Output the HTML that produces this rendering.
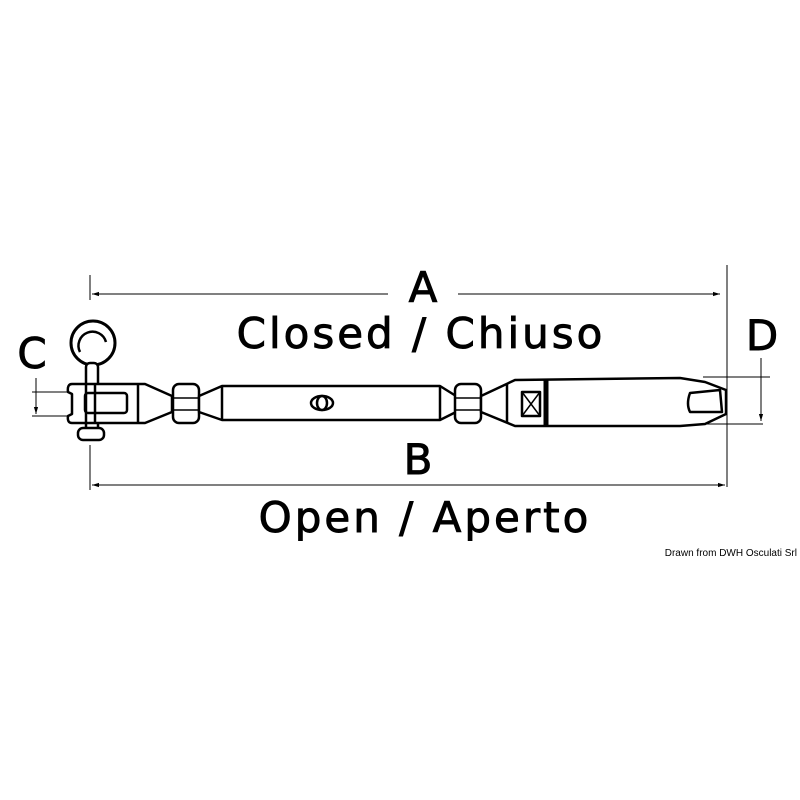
<!DOCTYPE html>
<html><head><style>html,body{margin:0;padding:0;background:#fff}svg{display:block}</style></head>
<body>
<svg width="800" height="800" viewBox="0 0 800 800" xmlns="http://www.w3.org/2000/svg">
<defs>
<marker id="ar" viewBox="0 0 10 10" refX="10" refY="5" markerWidth="7" markerHeight="7" orient="auto-start-reverse"><path d="M0,2 L10,5 L0,8 z" fill="#000"/></marker>
</defs>
<g stroke="#000" fill="none" stroke-width="1">
<line x1="90" y1="275" x2="90" y2="300"/>
<line x1="90" y1="445" x2="90" y2="490"/>
<line x1="727" y1="265" x2="727" y2="487"/>
<line x1="92" y1="294" x2="388" y2="294" marker-start="url(#ar)"/>
<line x1="458" y1="294" x2="720" y2="294" marker-end="url(#ar)"/>
<line x1="92" y1="485" x2="725" y2="485" marker-start="url(#ar)" marker-end="url(#ar)"/>
<line x1="32" y1="392" x2="68" y2="392"/>
<line x1="32" y1="416" x2="68" y2="416"/>
<line x1="36" y1="378" x2="36" y2="414" marker-end="url(#ar)"/>
<line x1="703" y1="377" x2="770" y2="377"/>
<line x1="700" y1="424" x2="763" y2="424"/>
<line x1="761" y1="358" x2="761" y2="421" marker-end="url(#ar)"/>
</g>
<g stroke="#000" fill="#fff" stroke-width="2.5" stroke-linejoin="round">
<circle cx="93" cy="343" r="22" stroke-width="3"/>
<path d="M80,352 A14,14 0 1 1 106,342" fill="none" stroke-width="2.5"/>
<rect x="86" y="363" width="12" height="72" rx="4"/>
<rect x="78" y="428" width="26" height="12" rx="5"/>
<path d="M72,384 L145,384 L172,396 L172,412 L145,423 L72,423 Q67,423 68,416 L72,414 L72,394 L68,392 Q67,384 72,384 Z"/>
<rect x="85" y="393" width="42" height="20" rx="3"/>
<line x1="95" y1="384" x2="95" y2="423"/>
<line x1="86" y1="384" x2="86" y2="423"/>
<line x1="138" y1="384" x2="138" y2="423"/>
<rect x="173" y="384" width="26" height="39" rx="6"/>
<line x1="173" y1="398" x2="199" y2="398" stroke-width="1.5"/>
<line x1="173" y1="410" x2="199" y2="410" stroke-width="1.5"/>
<path d="M199,396 L222,386 L440,386 L456,396 L456,412 L440,420 L222,420 L199,412 Z"/>
<line x1="222" y1="386" x2="222" y2="420"/>
<line x1="440" y1="386" x2="440" y2="420"/>
<ellipse cx="322" cy="403" rx="11" ry="7"/>
<ellipse cx="322" cy="403" rx="5" ry="7"/>
<rect x="455" y="384" width="26" height="39" rx="6"/>
<line x1="455" y1="398" x2="481" y2="398" stroke-width="1.5"/>
<line x1="455" y1="410" x2="481" y2="410" stroke-width="1.5"/>
<path d="M481,396 L515,380 L680,378 L705,382 L726,390 L726,414 L705,424 L680,426 L515,426 L481,412 Z"/>
<line x1="507" y1="384" x2="507" y2="422"/>
<rect x="522" y="392" width="18" height="24"/>
<line x1="522" y1="392" x2="540" y2="416" stroke-width="1.5"/>
<line x1="540" y1="392" x2="522" y2="416" stroke-width="1.5"/>
<line x1="546" y1="379" x2="546" y2="426" stroke-width="5"/>
<path d="M690,393 L720,390 L722,412 L690,412 Q686,404 690,393 Z"/>
</g>
<g font-family="'DejaVu Sans','Liberation Sans',sans-serif" fill="#000" stroke="#000" stroke-width="0.9" text-anchor="middle">
<text x="423" y="302" font-size="42">A</text>
<text x="421" y="348" font-size="42" letter-spacing="3">Closed / Chiuso</text>
<text x="418" y="474" font-size="42">B</text>
<text x="425" y="532" font-size="42" letter-spacing="3">Open / Aperto</text>
<text x="32" y="368" font-size="42">C</text>
<text x="762" y="350" font-size="42">D</text>
</g>
<text x="797" y="556" font-family="'Liberation Sans',sans-serif" font-size="10" text-anchor="end" fill="#000">Drawn from DWH Osculati Srl</text>
</svg>
</body></html>
